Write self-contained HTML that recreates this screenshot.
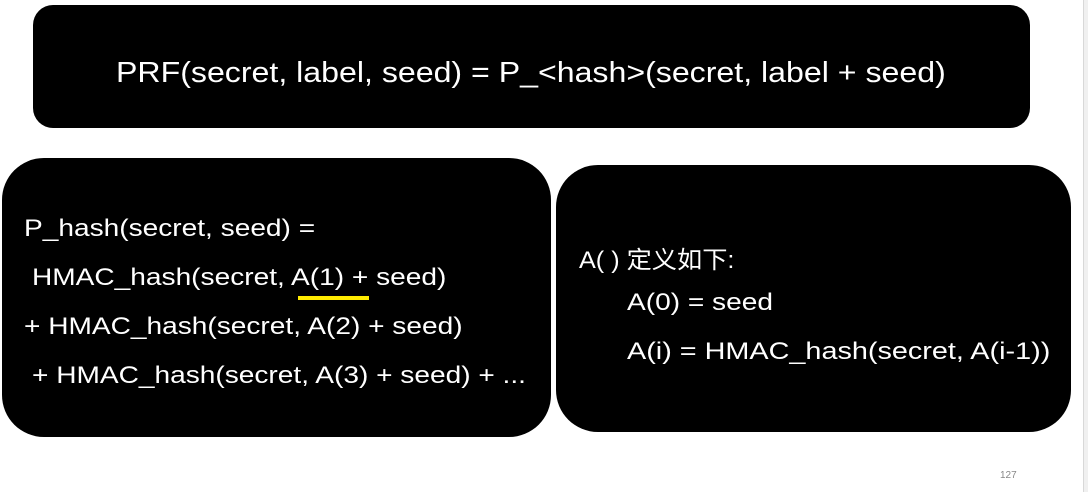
<!DOCTYPE html>
<html><head><meta charset="utf-8"><style>
body{margin:0;width:1088px;height:492px;background:#fff;position:relative;overflow:hidden;font-family:"Liberation Sans","Noto Sans CJK SC",sans-serif;color:#fff}
.b{position:absolute;background:#000}
.t{position:absolute;white-space:nowrap;font-size:24px;transform-origin:0 50%;transform:scaleX(1.17)}
</style></head><body>
<div style="position:absolute;left:1083px;top:0;width:5px;height:492px;background:#f0f0f0;border-left:1px solid #d8d8d8"></div>
<div class="b" style="left:33px;top:5px;width:997px;height:123px;border-radius:20px"></div>
<div class="t" style="left:116px;top:57px;font-size:29px;transform:scaleX(1.107)">PRF(secret, label, seed) = P_&lt;hash&gt;(secret, label + seed)</div>
<div class="b" style="left:2px;top:158px;width:549px;height:279px;border-radius:42px"></div>
<div class="t" style="left:24px;top:215px">P_hash(secret, seed) =</div>
<div class="t" style="left:32px;top:264px">HMAC_hash(secret, A(1) + seed)</div>
<div style="position:absolute;left:298px;top:296px;width:71px;height:4px;background:#ffeb00"></div>
<div class="t" style="left:24px;top:313px">+ HMAC_hash(secret, A(2) + seed)</div>
<div class="t" style="left:32px;top:362px">+ HMAC_hash(secret, A(3) + seed) + ...</div>
<div class="b" style="left:556px;top:165px;width:515px;height:267px;border-radius:42px"></div>
<div class="t" style="left:579px;top:240px;transform:scaleX(1.05)">A( ) 定义如下:</div>
<div class="t" style="left:627px;top:289px">A(0) = seed</div>
<div class="t" style="left:627px;top:338px;transform:scaleX(1.2)">A(i) = HMAC_hash(secret, A(i-1))</div>
<div class="t" style="left:1000px;top:470px;font-size:10px;color:#888;transform:none">127</div>
</body></html>
